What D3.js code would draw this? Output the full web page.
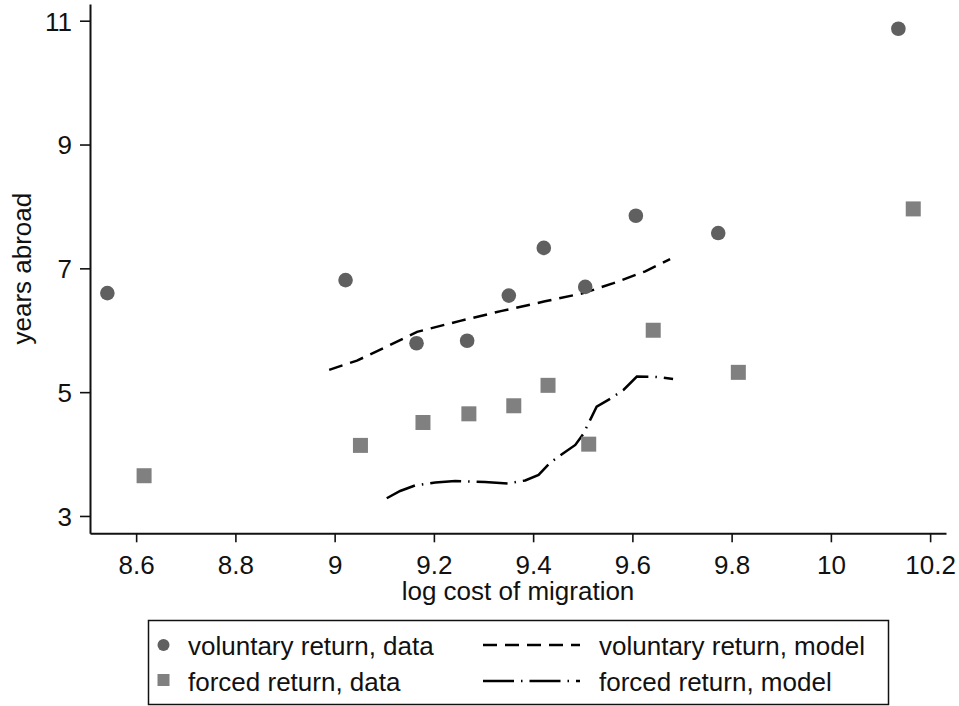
<!DOCTYPE html>
<html>
<head>
<meta charset="utf-8">
<script src="https://cdn.jsdelivr.net/npm/d3@7"></script>
<style>
  html, body { margin: 0; padding: 0; background: #fff; }
  svg { display: block; font-family: "Liberation Sans", Arial, Helvetica, sans-serif; }
</style>
</head>
<body>
<svg id="chart" width="959" height="706"></svg>
<script>
// Observed data: average years abroad by log migration cost
const volX = [8.542, 9.022, 9.165, 9.267, 9.351, 9.4215, 9.505, 9.607, 9.773, 10.136];
const volY = [6.60, 6.81, 5.79, 5.83, 6.56, 7.33, 6.70, 7.85, 7.57, 10.87];
const forX = [8.616, 9.052, 9.178, 9.2705, 9.361, 9.430, 9.512, 9.642, 9.8135, 10.166];
const forY = [3.65, 4.14, 4.51, 4.65, 4.78, 5.11, 4.16, 6.00, 5.32, 7.96];

// Model predictions
const volModelX = [8.989, 9.045, 9.104, 9.166, 9.253, 9.337, 9.424, 9.501, 9.562, 9.626, 9.676];
const volModelY = [5.360, 5.510, 5.731, 5.974, 6.152, 6.313, 6.467, 6.599, 6.761, 6.952, 7.149];
const forModelX = [9.105, 9.132, 9.162, 9.203, 9.243, 9.303, 9.350, 9.384, 9.411, 9.434, 9.458, 9.485, 9.501, 9.515, 9.528, 9.555, 9.582, 9.609, 9.649, 9.682];
const forModelY = [3.286, 3.404, 3.493, 3.541, 3.566, 3.549, 3.525, 3.574, 3.663, 3.857, 3.997, 4.147, 4.325, 4.552, 4.766, 4.891, 5.036, 5.251, 5.246, 5.214];

// Axis ticks and labels
const xTicks = [8.6, 8.8, 9, 9.2, 9.4, 9.6, 9.8, 10, 10.2];
const yTicks = [3, 5, 7, 9, 11];
const xTitle = "log cost of migration";
const yTitle = "years abroad";
const legendLabels = ["voluntary return, data", "forced return, data", "voluntary return, model", "forced return, model"];

const svg = d3.select("#chart");
const FONT = 26;
const circleColor = "#606060";
const squareColor = "#808080";
const DASH = "14,8";
const DASHDOT = "31,7,1.5,7";

const x = d3.scaleLinear().domain([8.507, 10.232]).range([90, 946]);
const y = d3.scaleLinear().domain([2.72, 11.27]).range([533.3, 4]);

// Axes
const xAxis = svg.append("g")
  .attr("transform", `translate(0,${y.range()[0]})`)
  .call(d3.axisBottom(x).tickValues(xTicks).tickFormat(d3.format("")).tickSize(9).tickSizeOuter(0).tickPadding(13));
const yAxis = svg.append("g")
  .attr("transform", `translate(${x.range()[0]},0)`)
  .call(d3.axisLeft(y).tickValues(yTicks).tickFormat(d3.format("")).tickSize(10).tickSizeOuter(0).tickPadding(8));

[xAxis, yAxis].forEach(g => {
  g.attr("font-family", null).attr("font-size", null);
  g.select(".domain").attr("stroke", "#111").attr("stroke-width", 2);
  g.selectAll(".tick line").attr("stroke", "#111").attr("stroke-width", 1.6);
  g.selectAll(".tick text").attr("fill", "#111").style("font-size", FONT + "px");
});
yAxis.selectAll(".tick text").attr("dy", "0.36em");

// Axis titles
svg.append("text")
  .attr("x", (x.range()[0] + x.range()[1]) / 2)
  .attr("y", 600)
  .attr("text-anchor", "middle")
  .attr("fill", "#111")
  .style("font-size", FONT + "px")
  .text(xTitle);
svg.append("text")
  .attr("transform", `translate(31,${(y.range()[0] + y.range()[1]) / 2}) rotate(-90)`)
  .attr("text-anchor", "middle")
  .attr("fill", "#111")
  .style("font-size", FONT + "px")
  .text(yTitle);

// Model lines
const line = d3.line().x(d => x(d[0])).y(d => y(d[1]));
svg.append("path")
  .datum(d3.zip(volModelX, volModelY))
  .attr("d", line)
  .attr("fill", "none")
  .attr("stroke", "#000")
  .attr("stroke-width", 2.5)
  .attr("stroke-dasharray", DASH);
svg.append("path")
  .datum(d3.zip(forModelX, forModelY))
  .attr("d", line)
  .attr("fill", "none")
  .attr("stroke", "#000")
  .attr("stroke-width", 2.5)
  .attr("stroke-dasharray", DASHDOT);

// Data markers
svg.append("g").selectAll("circle")
  .data(d3.zip(volX, volY))
  .join("circle")
  .attr("cx", d => x(d[0]))
  .attr("cy", d => y(d[1]))
  .attr("r", 7.3)
  .attr("fill", circleColor);

const SQ = 15;
svg.append("g").selectAll("rect")
  .data(d3.zip(forX, forY))
  .join("rect")
  .attr("x", d => x(d[0]) - SQ / 2)
  .attr("y", d => y(d[1]) - SQ / 2)
  .attr("width", SQ)
  .attr("height", SQ)
  .attr("fill", squareColor);

// Legend
const legend = svg.append("g");
legend.append("rect")
  .attr("x", 148.5).attr("y", 620.5)
  .attr("width", 740).attr("height", 84)
  .attr("fill", "#fff")
  .attr("stroke", "#111")
  .attr("stroke-width", 1.5);

legend.append("circle")
  .attr("cx", 163.5).attr("cy", 645).attr("r", 6)
  .attr("fill", circleColor);
legend.append("rect")
  .attr("x", 157.5).attr("y", 674).attr("width", 12).attr("height", 12)
  .attr("fill", squareColor);
legend.append("line")
  .attr("x1", 483).attr("x2", 580).attr("y1", 645).attr("y2", 645)
  .attr("stroke", "#000").attr("stroke-width", 2.5).attr("stroke-dasharray", DASH);
legend.append("line")
  .attr("x1", 483).attr("x2", 580).attr("y1", 681).attr("y2", 681)
  .attr("stroke", "#000").attr("stroke-width", 2.5).attr("stroke-dasharray", DASHDOT);

const legendPos = [[188, 655], [188, 691], [599, 655], [599, 691]];
legend.selectAll("text.lbl")
  .data(legendLabels)
  .join("text")
  .attr("class", "lbl")
  .attr("x", (d, i) => legendPos[i][0])
  .attr("y", (d, i) => legendPos[i][1])
  .attr("fill", "#111")
  .style("font-size", FONT + "px")
  .text(d => d);
</script>
</body>
</html>
